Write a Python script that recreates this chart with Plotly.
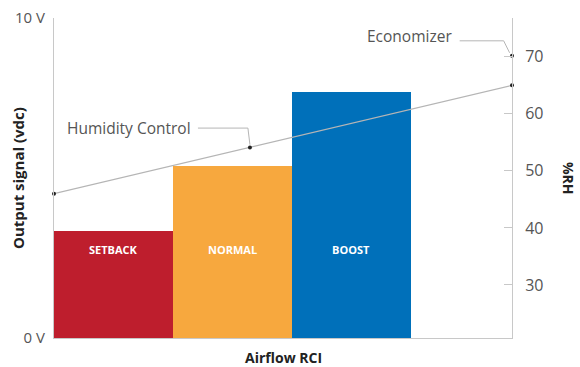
import plotly.graph_objects as go

# ---- data ----
modes = ["SETBACK", "NORMAL", "BOOST"]
mode_x = [0.5, 1.5, 2.5]
output_v = [3.35, 5.38, 7.7]
bar_colors = ["#BE1E2D", "#F7A83E", "#0070BA"]

humid_x = [0.0, 1.647, 3.85]
humid_rh = [46.0, 54.1, 65.0]
econ_x = [3.85]
econ_rh = [70.2]

left_tickvals = [0, 10]
left_ticktext = ["0 V", "10 V"]
right_tickvals = [30, 40, 50, 60, 70]

FONT = "Open Sans"
GRAY = "#c8c8c8"

fig = go.Figure()
fig.add_trace(go.Bar(x=mode_x, y=output_v, width=1.0, marker=dict(color=bar_colors, line=dict(width=0)),
                     showlegend=False, hoverinfo="skip"))
fig.add_trace(go.Scatter(x=humid_x, y=humid_rh, yaxis="y2", mode="lines+markers",
                         line=dict(color="#b5b5b5", width=1.2),
                         marker=dict(color="#222", size=4), cliponaxis=False, showlegend=False))
fig.add_trace(go.Scatter(x=econ_x, y=econ_rh, yaxis="y2", mode="markers",
                         marker=dict(color="#222", size=4), cliponaxis=False, showlegend=False))

for m, x in zip(modes, mode_x):
    fig.add_annotation(x=x, y=2.78, xref="x", yref="y", text="<b>%s</b>" % m, showarrow=False,
                       font=dict(family=FONT, size=11, color="white"))

# labels with leader lines
fig.add_annotation(x=1.17, y=57.5, xref="x", yref="y2", text="Humidity Control", showarrow=False,
                   xanchor="right", font=dict(family=FONT, size=15.5, color="#555"))
fig.add_shape(type="path", xref="x", yref="y2",
              path="M 1.21 57.5 L 1.63 57.5 L 1.647 54.6", line=dict(color="#b5b5b5", width=1))
fig.add_annotation(x=3.36, y=73.6, xref="x", yref="y2", text="Economizer", showarrow=False,
                   xanchor="right", font=dict(family=FONT, size=15.5, color="#555"))
fig.add_shape(type="path", xref="x", yref="y2",
              path="M 3.41 72.8 L 3.78 72.8 L 3.83 70.7", line=dict(color="#b5b5b5", width=1))

fig.update_layout(
    width=580, height=367,
    margin=dict(l=54, r=68, t=18, b=29),
    paper_bgcolor="white", plot_bgcolor="white",
    bargap=0,
    xaxis=dict(range=[0, 3.85], showticklabels=False, ticks="", showgrid=False, zeroline=False,
               showline=True, linecolor=GRAY, linewidth=1, automargin=False),
    yaxis=dict(range=[0, 10], tickvals=left_tickvals, ticktext=left_ticktext, showgrid=False, zeroline=False,
               showline=True, linecolor=GRAY, linewidth=1, ticks="", ticklabelstandoff=5, automargin=False,
               tickfont=dict(family=FONT, size=15, color="#555")),
    yaxis2=dict(range=[20.7, 76.8], overlaying="y", side="right", tickvals=right_tickvals, showgrid=False,
                zeroline=False, showline=True, linecolor=GRAY, linewidth=1, ticks="inside", ticklen=8,
                automargin=False,
                tickcolor=GRAY, ticklabelstandoff=9, tickfont=dict(family=FONT, size=16, color="#555")),
)
fig.add_annotation(x=0.5, xref="paper", y=0, yref="paper", yanchor="middle", yshift=-19,
                   text="<b>Airflow RCI</b>",
                   showarrow=False, font=dict(family=FONT, size=14, color="#222"))
fig.add_annotation(x=0, xref="paper", xanchor="center", xshift=-36, y=0.5, yref="paper",
                   text="<b>Output signal (vdc)</b>",
                   textangle=-90, showarrow=False, font=dict(family=FONT, size=15, color="#222"))
fig.add_annotation(x=1.0, xref="paper", xanchor="center", xshift=57, y=0.5, yref="paper",
                   text="<b>%RH</b>", textangle=90,
                   showarrow=False, font=dict(family=FONT, size=14, color="#222"))

fig.write_html("out.html")
